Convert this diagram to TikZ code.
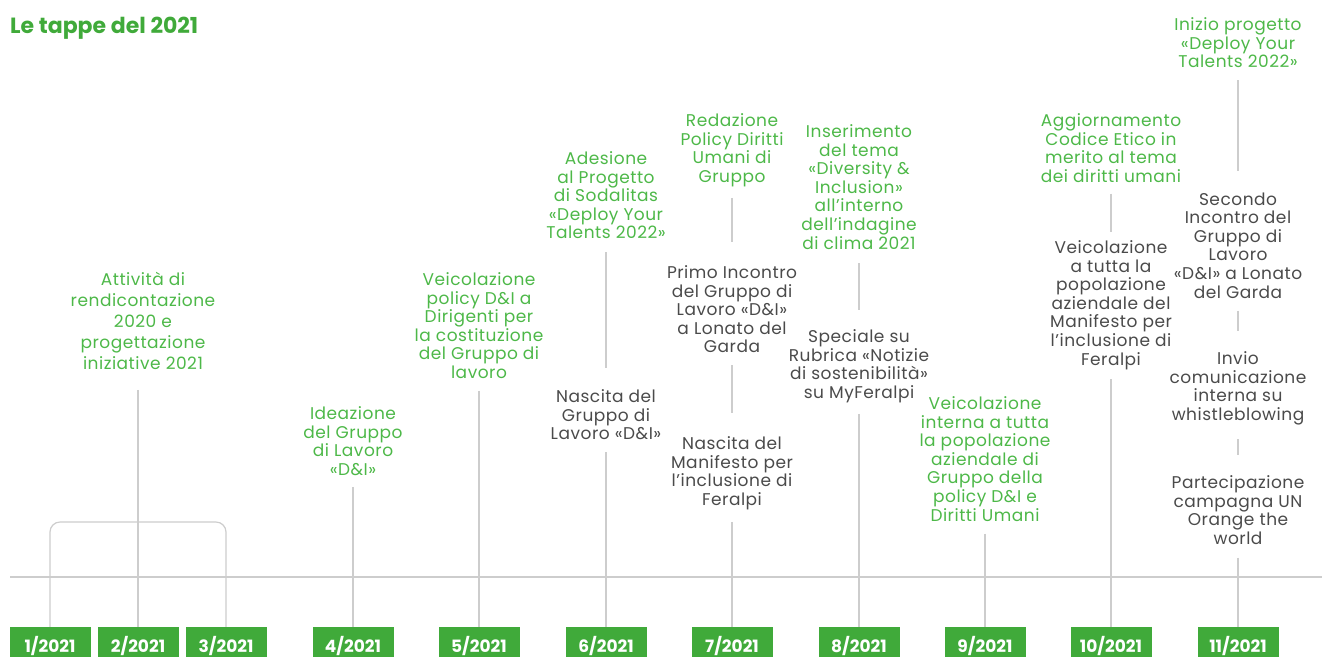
\documentclass[tikz,border=0pt]{standalone}
\usepackage{fontspec}
\setmainfont{Poppins}
\definecolor{tgreen}{HTML}{4DB848}
\definecolor{bgreen}{HTML}{40AA3A}
\definecolor{tgray}{HTML}{4A4A4A}
\definecolor{lgray}{HTML}{CDCDCD}
\begin{document}
\begin{tikzpicture}[x=1pt,y=-1pt,
  evt/.style={anchor=north, inner sep=0pt, align=center, yshift=-2pt,
    font=\fontsize{17}{18.6}\selectfont\addfontfeatures{LetterSpace=3}},
  gev/.style={evt, text=tgreen},
  kev/.style={evt, text=tgray},
  month/.style={fill=bgreen, text=white, minimum width=81pt, minimum height=30pt,
    anchor=north, inner sep=0pt, text height=20pt, text depth=0pt,
    font=\fontsize{17}{20}\selectfont\bfseries},
  conn/.style={draw=lgray, line width=1.2pt}]
\useasboundingbox (0,0) rectangle (1322,657);

\node[anchor=base west, inner sep=0pt, text=bgreen,
  font=\fontsize{22}{24}\selectfont\bfseries] (title) at (10,33) {Le tappe del 2021};

% timeline
\coordinate (tlA) at (10,577);
\coordinate (tlB) at (1322,577);
\draw[conn] (tlA) -- (tlB);

% month box positions
\coordinate (p1) at (50,627);
\coordinate (p2) at (138,627);
\coordinate (p3) at (226,627);
\coordinate (p4) at (353,627);
\coordinate (p5) at (479,627);
\coordinate (p6) at (606,627);
\coordinate (p7) at (732,627);
\coordinate (p8) at (859,627);
\coordinate (p9) at (985,627);
\coordinate (p10) at (1111,627);
\coordinate (p11) at (1238,627);

% event texts
\node[gev, yshift=-1pt, font=\fontsize{17}{21}\selectfont\addfontfeatures{LetterSpace=3}]
  (t1) at (143,268.7) {Attività di\\rendicontazione\\2020 e\\progettazione\\iniziative 2021};
\node[gev] (t2) at (353,404.4) {Ideazione\\del Gruppo\\di Lavoro\\«D\&I»};
\node[gev] (t3) at (479,270.4) {Veicolazione\\policy D\&I a\\Dirigenti per\\la costituzione\\del Gruppo di\\lavoro};
\node[gev] (t4) at (606,149.4) {Adesione\\al Progetto\\di Sodalitas\\«Deploy Your\\Talents 2022»};
\node[kev] (t5) at (606,387.4) {Nascita del\\Gruppo di\\Lavoro «D\&I»};
\node[gev] (t6) at (732,111.4) {Redazione\\Policy Diritti\\Umani di\\Gruppo};
\node[kev] (t7) at (732,263.4) {Primo Incontro\\del Gruppo di\\Lavoro «D\&I»\\a Lonato del\\Garda};
\node[kev] (t8) at (732,434.4) {Nascita del\\Manifesto per\\l’inclusione di\\Feralpi};
\node[gev] (t9) at (859,122.4) {Inserimento\\del tema\\«Diversity \&\\Inclusion»\\all’interno\\dell’indagine\\di clima 2021};
\node[kev] (t10) at (859,327.4) {Speciale su\\Rubrica «Notizie\\di sostenibilità»\\su MyFeralpi};
\node[gev] (t11) at (985,394.4) {Veicolazione\\interna a tutta\\la popolazione\\aziendale di\\Gruppo della\\policy D\&I e\\Diritti Umani};
\node[gev] (t12) at (1111,111.4) {Aggiornamento\\Codice Etico in\\merito al tema\\dei diritti umani};
\node[kev] (t13) at (1111,238.4) {Veicolazione\\a tutta la\\popolazione\\aziendale del\\Manifesto per\\l’inclusione di\\Feralpi};
\node[gev] (t14) at (1238,15.4) {Inizio progetto\\«Deploy Your\\Talents 2022»};
\node[kev] (t15) at (1238,190.4) {Secondo\\Incontro del\\Gruppo di\\Lavoro\\«D\&I» a Lonato\\del Garda};
\node[kev] (t16) at (1238,349.4) {Invio\\comunicazione\\interna su\\whistleblowing};
\node[kev] (t17) at (1238,473.4) {Partecipazione\\campagna UN\\Orange the\\world};

% connectors
\coordinate (br) at (138,522);
\draw[conn, rounded corners=10pt] (p1) |- (br) -| (p3);
\draw[conn, shorten <=20.3pt] (p2 |- t1.south) -- (p2);
\draw[conn, shorten <=11pt] (t2.south) -- (p4);
\draw[conn, shorten <=12pt] (t3.south) -- (p5);
\draw[conn, shorten <=13pt, shorten >=21.4pt] (t4.south) -- (t5.north);
\draw[conn, shorten <=12pt] (t5.south) -- (p6);
\draw[conn, shorten <=11pt, shorten >=23.4pt] (t6.south) -- (t7.north);
\draw[conn, shorten <=12pt, shorten >=23.4pt] (t7.south) -- (t8.north);
\draw[conn, shorten <=12pt] (t8.south) -- (p7);
\draw[conn, shorten <=14pt, shorten >=19.4pt] (t9.south) -- (t10.north);
\draw[conn, shorten <=11pt] (t10.south) -- (p8);
\draw[conn, shorten <=12pt] (t11.south) -- (p9);
\draw[conn, shorten <=11pt, shorten >=8.4pt] (t12.south) -- (t13.north);
\draw[conn, shorten <=9.4pt] (t13.south) -- (p10);
\draw[conn, shorten <=12pt, shorten >=21.4pt] (t14.south) -- (t15.north);
\draw[conn, shorten <=12pt, shorten >=20.4pt] (t15.south) -- (t16.north);
\draw[conn, shorten <=14pt, shorten >=20.4pt] (t16.south) -- (t17.north);
\draw[conn, shorten <=13pt] (t17.south) -- (p11);

% month boxes
\node[month] (m1) at (p1) {1/2021};
\node[month] (m2) at (p2) {2/2021};
\node[month] (m3) at (p3) {3/2021};
\node[month] (m4) at (p4) {4/2021};
\node[month] (m5) at (p5) {5/2021};
\node[month] (m6) at (p6) {6/2021};
\node[month] (m7) at (p7) {7/2021};
\node[month] (m8) at (p8) {8/2021};
\node[month] (m9) at (p9) {9/2021};
\node[month] (m10) at (p10) {10/2021};
\node[month] (m11) at (p11) {11/2021};
\end{tikzpicture}
\end{document}
